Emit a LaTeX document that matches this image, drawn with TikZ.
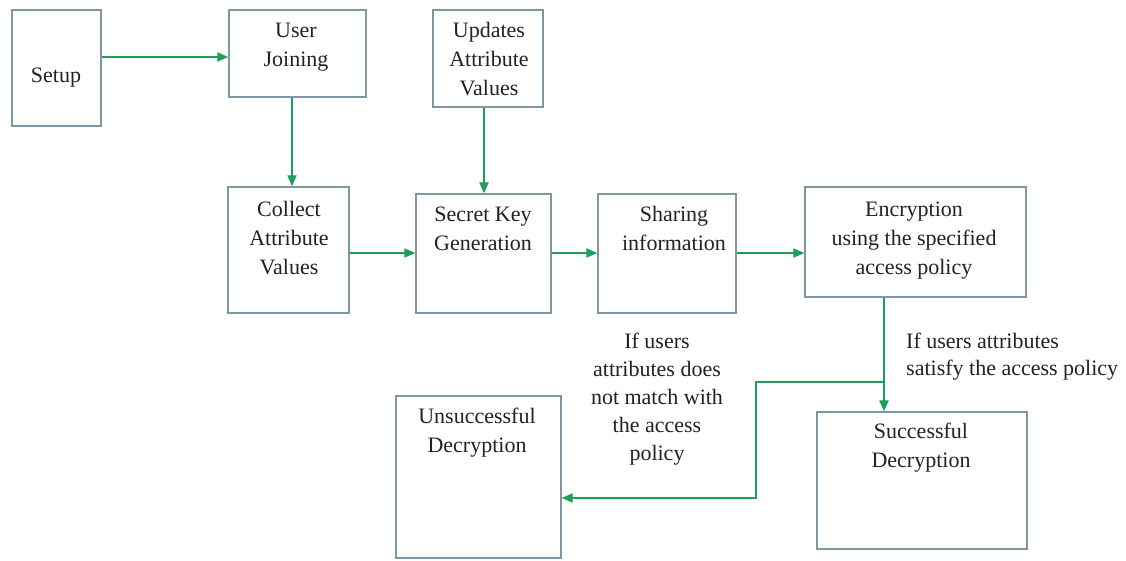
\documentclass[tikz,border=0pt]{standalone}
\usepackage{fontspec}
\setmainfont{Liberation Serif}
\usetikzlibrary{arrows.meta}
\definecolor{boxc}{HTML}{7E97A3}
\definecolor{arrc}{HTML}{1E9E5A}
\definecolor{txtc}{HTML}{222222}
\begin{document}
\begin{tikzpicture}[x=1pt,y=-1pt,
 box/.style={draw=boxc,line width=1.3pt,inner sep=0pt,fill=white},
 txt/.style={anchor=north,inner sep=0pt,align=center,text=txtc,font=\fontsize{22}{29}\selectfont},
 arr/.style={draw=arrc,line width=2pt,-{Triangle[length=11pt,width=9pt]}}]
\useasboundingbox (0,0) rectangle (1126,560);
\fill[white] (0,0) rectangle (1126,560);
% boxes
\node[box,minimum width=89pt,minimum height=116pt] (setup) at (56.5,68) {};
\node[box,minimum width=137pt,minimum height=87pt] (join) at (297.5,53.5) {};
\node[box,minimum width=110pt,minimum height=97pt] (upd) at (488,58.5) {};
\node[box,minimum width=121pt,minimum height=126pt] (coll) at (288.5,250) {};
\node[box,minimum width=135pt,minimum height=119pt] (skg) at (483.5,253.5) {};
\node[box,minimum width=138pt,minimum height=119pt] (share) at (667,253.5) {};
\node[box,minimum width=221pt,minimum height=110pt] (enc) at (915.5,242) {};
\node[box,minimum width=165pt,minimum height=162pt] (unsucc) at (478.5,477) {};
\node[box,minimum width=210pt,minimum height=137pt] (succ) at (922,480.5) {};
% texts
\node[txt] (tsetup) at (56,68) {Setup};
\node[txt] (tjoin) at (296,23) {User\\Joining};
\node[txt] (tupd) at (489,22) {Updates\\Attribute\\Values};
\node[txt] (tcoll) at (289,201) {Collect\\Attribute\\Values};
\node[txt] (tskg) at (483,207) {Secret Key\\Generation};
\node[txt] (tshare) at (674,206) {Sharing\\information};
\node[txt] (tenc) at (914,202) {Encryption\\using the specified\\access policy};
\node[txt] (tunsucc) at (477,408) {Unsuccessful\\Decryption};
\node[txt] (tsucc) at (921,423) {Successful\\Decryption};
\node[txt,font=\fontsize{22}{28}\selectfont] (lno) at (657,333) {If users\\attributes does\\not match with\\the access\\policy};
\node[txt,anchor=north west,align=left,font=\fontsize{22}{27}\selectfont] (lyes) at (906,333) {If users attributes\\satisfy the access policy};
% connectors
\coordinate (s1) at ([yshift=11pt]setup.east);
\draw[arr] (s1) -- (s1 -| join.west);
\coordinate (j1) at ([xshift=-5.5pt]join.south);
\draw[arr] (j1) -- (j1 |- coll.north);
\coordinate (u0) at ([xshift=-4pt]upd.south);
\draw[arr] (u0) -- (u0 |- skg.north);
\coordinate (c1) at ([yshift=-3pt]coll.east);
\draw[arr] (c1) -- (c1 -| skg.west);
\coordinate (k1) at ([yshift=0.5pt]skg.east);
\draw[arr] (k1) -- (k1 -| share.west);
\coordinate (h1) at ([yshift=0.5pt]share.east);
\draw[arr] (h1) -- (h1 -| enc.west);
\coordinate (e1) at ([xshift=-31.5pt]enc.south);
\draw[arr] (e1) -- (e1 |- succ.north);
\coordinate (b1) at ([yshift=-84pt]e1);
\coordinate (b2) at ([xshift=-128pt]b1);
\coordinate (u1) at ([yshift=-21pt]unsucc.east);
\draw[arr] (b1) -- (b2) |- (u1);
\end{tikzpicture}
\end{document}
